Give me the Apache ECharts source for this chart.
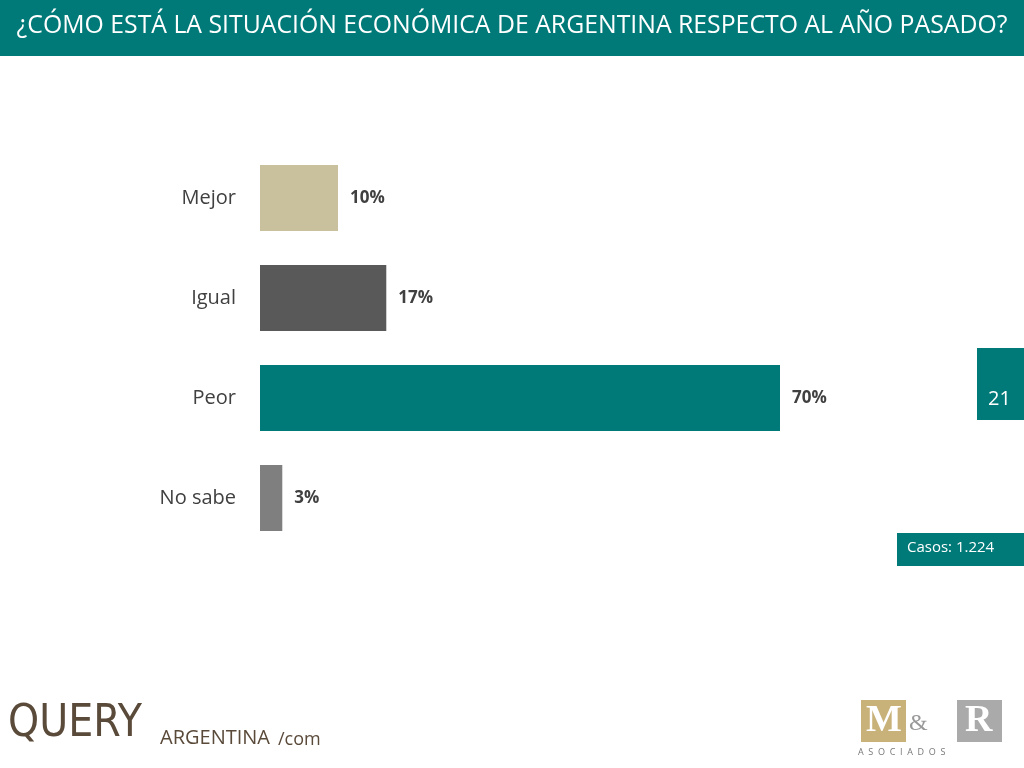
<!DOCTYPE html>
<html><head><meta charset="utf-8">
<script src="https://cdn.jsdelivr.net/npm/echarts@6/dist/echarts.min.js"></script>
<style>html,body{margin:0;padding:0;background:#fff}#c{width:1024px;height:768px}</style>
</head><body><div id="c"></div>
<script>
const categories = ['Mejor','Igual','Peor','No sabe'];
const values = [10.5, 17, 70, 3];
const labels = ['10%','17%','70%','3%'];
const colors = ['#c9c09d','#595959','#007a78','#7f7f7f'];

const chart = echarts.init(document.getElementById('c'));
chart.setOption({
  backgroundColor:'#fff',
  animation:false,
  grid:{left:260,top:148,width:520,height:400},
  xAxis:{type:'value',min:0,max:70,show:false},
  yAxis:{type:'category',data:categories,inverse:true,
    axisLine:{show:false},axisTick:{show:false},
    axisLabel:{color:'#404040',fontSize:20,fontFamily:'Open Sans',margin:24}},
  series:[{type:'bar',barWidth:66,
    data:values.map((v,i)=>({value:v,itemStyle:{color:colors[i]}})),
    label:{show:true,position:'right',distance:12,color:'#404040',fontSize:17,fontWeight:'bold',fontFamily:'Open Sans',
      formatter:p=>labels[p.dataIndex]}}],
  graphic:[
    {type:'rect',shape:{x:0,y:0,width:1024,height:56},style:{fill:'#007a78'}},
    {type:'text',left:'center',top:13,style:{text:'¿CÓMO ESTÁ LA SITUACIÓN ECONÓMICA DE ARGENTINA RESPECTO AL AÑO PASADO?',fill:'#fff',font:'24.8px "Open Sans"'}},
    {type:'rect',shape:{x:977,y:348,width:47,height:72},style:{fill:'#007a78'}},
    {type:'text',x:988,y:389,style:{text:'21',fill:'#fff',font:'20px "Open Sans"'}},
    {type:'rect',shape:{x:897,y:533,width:127,height:33},style:{fill:'#007a78'}},
    {type:'text',x:907,y:540,style:{text:'Casos: 1.224',fill:'#fff',font:'15px "Open Sans"'}},
    {type:'text',x:8,y:703,style:{text:'QUERY',fill:'#5a4a3a',font:'44px "DejaVu Sans Condensed"'}},
    {type:'text',x:160,y:728,style:{text:'ARGENTINA',fill:'#5a4a3a',font:'20px "Open Sans"'}},
    {type:'text',x:278,y:731,style:{text:'/com',fill:'#5a4a3a',font:'18px "Open Sans"'}},
    {type:'rect',shape:{x:861,y:700,width:45,height:42},style:{fill:'#c9b27a'}},
    {type:'text',x:866,y:702,style:{text:'M',fill:'#fff',font:'bold 38px "Liberation Serif"'}},
    {type:'text',x:909,y:712,style:{text:'&',fill:'#999',font:'24px "Liberation Serif"'}},
    {type:'rect',shape:{x:957,y:700,width:45,height:42},style:{fill:'#aaa'}},
    {type:'text',x:965,y:702,style:{text:'R',fill:'#fff',font:'bold 38px "Liberation Serif"'}},
    {type:'text',x:858,y:748,style:{text:'A  S  O  C  I  A  D  O  S',fill:'#777',font:'9px "Open Sans"'}}
  ]
});
</script></body></html>
